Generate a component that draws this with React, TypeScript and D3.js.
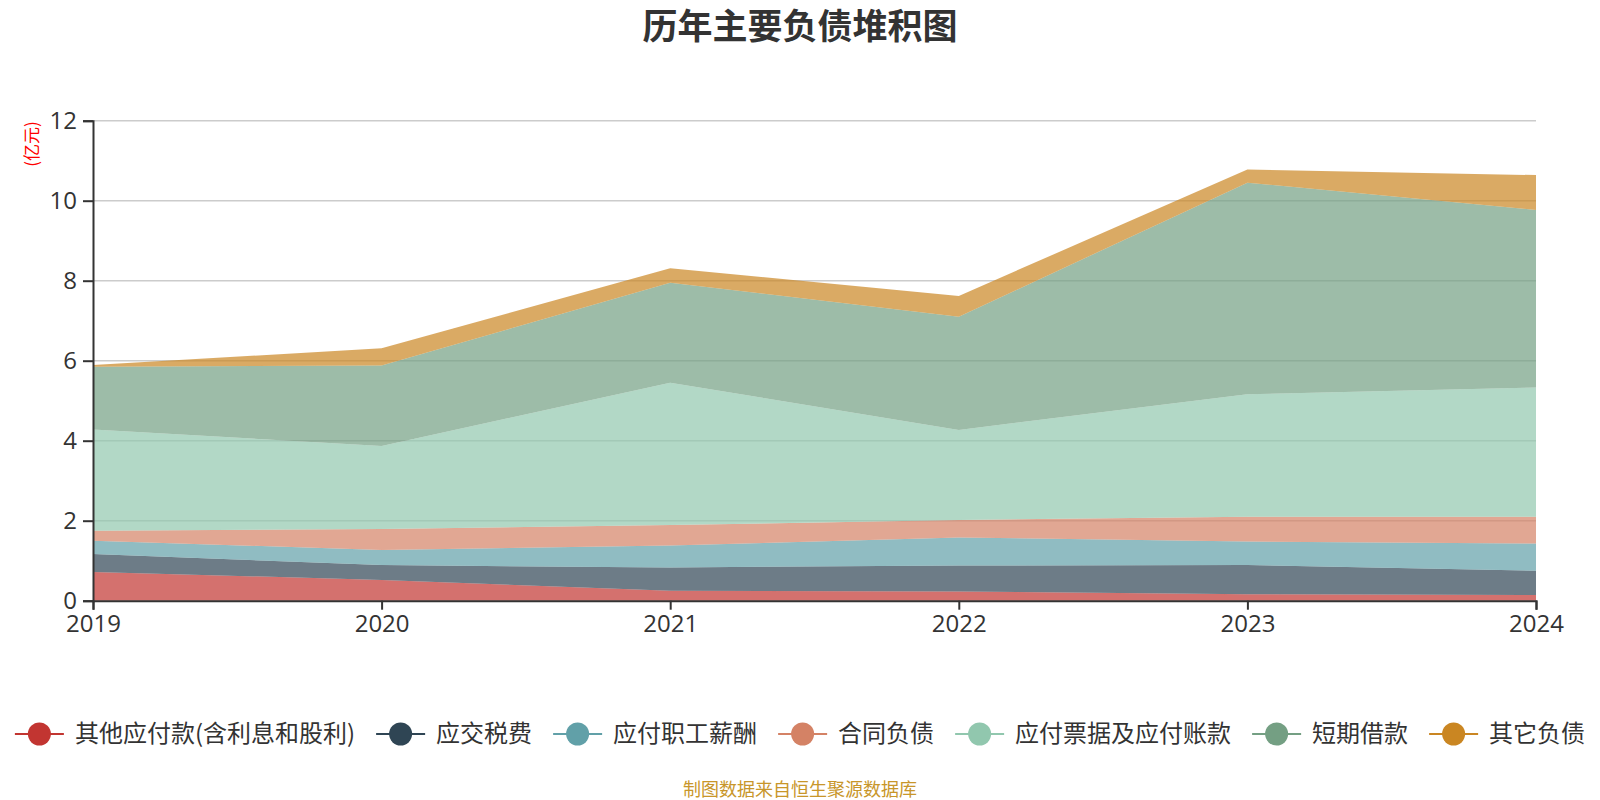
import * as d3 from 'd3';
import { useEffect, useRef } from 'react';

// 年份与各项负债（亿元）
const years = ['2019', '2020', '2021', '2022', '2023', '2024'];
const seriesNames = [
	'其他应付款(含利息和股利)',
	'应交税费',
	'应付职工薪酬',
	'合同负债',
	'应付票据及应付账款',
	'短期借款',
	'其它负债',
];
const otherPayables = [0.72, 0.52, 0.25, 0.23, 0.16, 0.14];
const taxesPayable = [0.45, 0.37, 0.58, 0.65, 0.73, 0.61];
const payroll = [0.33, 0.38, 0.55, 0.7, 0.59, 0.68];
const contractLiab = [0.25, 0.52, 0.51, 0.44, 0.62, 0.67];
const notesAccounts = [2.53, 2.08, 3.56, 2.25, 3.06, 3.23];
const shortLoans = [1.57, 2.01, 2.5, 2.83, 5.29, 4.44];
const otherLiab = [0.04, 0.43, 0.36, 0.52, 0.33, 0.87];
const yTicks = [0, 2, 4, 6, 8, 10, 12];
const colors = ['#c23531', '#2f4554', '#61a0a8', '#d48265', '#91c7ae', '#749f83', '#ca8622'];

const W = 1600;
const H = 800;
const margin = { top: 120.7, right: 64, bottom: 199.3, left: 93 };
const FONT = '"Noto Sans CJK SC", "Noto Sans", sans-serif';
const NUM_FONT = '"Open Sans", "Noto Sans", sans-serif';

export default function App() {
	const ref = useRef<SVGSVGElement>(null);

	useEffect(() => {
		document.body.style.margin = '0';
		const svg = d3.select(ref.current);
		svg.selectAll('*').remove();

		const allSeries = [otherPayables, taxesPayable, payroll, contractLiab, notesAccounts, shortLoans, otherLiab];
		const rows = years.map((y, i) => {
			const r: Record<string, number | string> = { year: y };
			seriesNames.forEach((n, k) => (r[n] = allSeries[k][i]));
			return r;
		});
		const stacked = d3.stack<any>().keys(seriesNames)(rows);

		const x = d3.scalePoint().domain(years).range([margin.left, W - margin.right]);
		const y = d3.scaleLinear().domain([0, 12]).range([H - margin.bottom, margin.top]);

		// 标题
		svg
			.append('text')
			.attr('x', W / 2)
			.attr('y', 27)
			.attr('dy', '0.35em')
			.attr('text-anchor', 'middle')
			.style('font', `bold 35px ${FONT}`)
			.style('fill', '#333')
			.text('历年主要负债堆积图');

		// 网格线
		svg
			.append('g')
			.selectAll('line')
			.data(yTicks.slice(1))
			.enter()
			.append('line')
			.attr('x1', margin.left)
			.attr('x2', W - margin.right)
			.attr('y1', (d) => y(d))
			.attr('y2', (d) => y(d))
			.style('stroke', '#ccc')
			.style('stroke-width', 1.5);

		// 面积
		const area = d3
			.area<any>()
			.x((d) => x(d.data.year)!)
			.y0((d) => y(d[0]))
			.y1((d) => y(d[1]));
		svg
			.append('g')
			.selectAll('path')
			.data(stacked)
			.enter()
			.append('path')
			.attr('d', area)
			.style('fill', (_, i) => colors[i])
			.style('fill-opacity', 0.7);

		// 坐标轴
		const xAxis = svg
			.append('g')
			.attr('transform', `translate(0, ${H - margin.bottom})`)
			.call(d3.axisBottom(x).tickSizeOuter(0).tickSize(9).tickPadding(5));
		const yAxis = svg
			.append('g')
			.attr('transform', `translate(${margin.left}, 0)`)
			.call(d3.axisLeft(y).tickValues(yTicks).tickSizeOuter(0).tickSize(10).tickPadding(6));
		[xAxis, yAxis].forEach((g) => {
			g.selectAll('path, line').style('stroke', '#333').style('stroke-width', 2);
			g.selectAll('text').style('font', `24px ${NUM_FONT}`).style('fill', '#333');
		});

		// 单位
		svg
			.append('text')
			.attr('transform', `translate(32, 144) rotate(-90)`)
			.attr('text-anchor', 'middle')
			.attr('dy', '0.35em')
			.style('font', `17px ${FONT}`)
			.style('fill', 'red')
			.text('(亿元)');

		// 图例
		const legend = svg.append('g');
		const iconW = 49;
		const gapText = 11;
		const gapItem = 21;
		const items = seriesNames.map((n, i) => {
			const g = legend.append('g');
			g.append('line')
				.attr('x1', 0)
				.attr('x2', iconW)
				.attr('y1', 0)
				.attr('y2', 0)
				.style('stroke', colors[i])
				.style('stroke-width', 2);
			g.append('circle').attr('cx', iconW / 2).attr('cy', 0).attr('r', 11.5).style('fill', colors[i]);
			const t = g
				.append('text')
				.attr('x', iconW + gapText)
				.attr('dy', '0.35em')
				.style('font', `24px ${FONT}`)
				.style('fill', '#333')
				.text(n);
			const tw = (t.node() as SVGTextElement).getComputedTextLength();
			return { g, w: iconW + gapText + tw };
		});
		const total = d3.sum(items, (d) => d.w) + gapItem * (items.length - 1);
		let cx = W / 2 - total / 2;
		items.forEach((it) => {
			it.g.attr('transform', `translate(${cx}, 734)`);
			cx += it.w + gapItem;
		});

		// 数据来源
		svg
			.append('text')
			.attr('x', W / 2)
			.attr('y', 790)
			.attr('dy', '0.35em')
			.attr('text-anchor', 'middle')
			.style('font', `18px ${FONT}`)
			.style('fill', '#c8962a')
			.text('制图数据来自恒生聚源数据库');
	}, []);

	return <svg ref={ref} width={W} height={H} style={{ display: 'block', background: '#fff' }}></svg>;
}
